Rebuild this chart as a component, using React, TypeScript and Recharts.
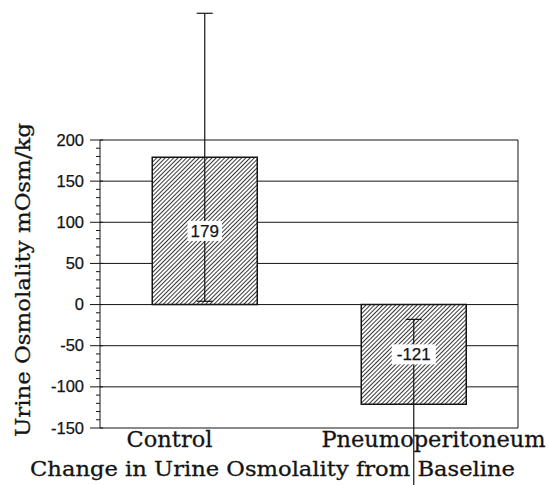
import { Bar, BarChart, CartesianGrid, ErrorBar, LabelList, ReferenceLine, XAxis, YAxis } from "recharts";

const groups = ["Control", "Pneumoperitoneum"];
const change = [179, -121];
const spread = [175, 103];
const majorTicks = [-150, -100, -50, 0, 50, 100, 150, 200];
const minorTicks = [
  -150, -140, -130, -120, -110, -100, -90, -80, -70, -60, -50, -40, -30, -20, -10, 0,
  10, 20, 30, 40, 50, 60, 70, 80, 90, 100, 110, 120, 130, 140, 150, 160, 170, 180, 190, 200,
];

const INK = "#141414";
const SERIF = "'DejaVu Serif', 'Liberation Serif', serif";
const SANS = "'Liberation Sans', Arial, sans-serif";
// nudges for the category names (the original isn't centred on the bars)
const catShift = [-35, 20];

const data = groups.map((name, i) => ({ name, value: change[i], err: spread[i] }));

function ValTick(props: any) {
  const { x, y, payload } = props;
  const major = payload.value % 50 === 0;
  return (
    <g>
      <line x1={major ? x - 10 : x - 4} x2={major ? x + 3 : x} y1={y} y2={y} stroke={INK} strokeWidth={1} />
      {major && (
        <text x={x - 16} y={y} dy={5.5} textAnchor="end" fontFamily={SANS} fontSize={16.5} fill={INK} stroke={INK} strokeWidth={0.25}>
          {payload.value}
        </text>
      )}
    </g>
  );
}

function CatTick(props: any) {
  const { x, y, payload, index } = props;
  return (
    <text
      x={x + (catShift[index] ?? 0)}
      y={y}
      dy={19}
      textAnchor="middle"
      fontFamily={SERIF}
      fontSize={22.5}
      fill={INK}
      stroke={INK}
      strokeWidth={0.3}
    >
      {payload.value}
    </text>
  );
}

function ValueBox(props: any) {
  const { x, y, width, height, value } = props;
  const cx = x + width / 2;
  const cy = y + height / 2;
  const w = String(value).length * 9.5 + 6;
  return (
    <g>
      <rect x={cx - w / 2} y={cy - 10} width={w} height={20} fill="#fff" />
      <text x={cx} y={cy} dy={6} textAnchor="middle" fontFamily={SANS} fontSize={17} fill={INK} stroke={INK} strokeWidth={0.25}>
        {value}
      </text>
    </g>
  );
}

export default function App() {
  return (
    <div style={{ position: "absolute", left: 0, top: 0, background: "#fff" }}>
      <BarChart width={548} height={485} data={data} margin={{ top: 140, right: 30, bottom: 0, left: 0 }} barCategoryGap="25%">
        <defs>
          <pattern id="hatch" patternUnits="userSpaceOnUse" width={3} height={3} patternTransform="rotate(45)">
            <rect width={3} height={3} fill="#fff" />
            <line x1={0} y1={0} x2={0} y2={3} stroke={INK} strokeWidth={1.7} />
          </pattern>
        </defs>
        <CartesianGrid horizontalValues={majorTicks} vertical={false} stroke={INK} strokeWidth={1} />
        <XAxis
          dataKey="name"
          height={57}
          axisLine={false}
          tickLine={false}
          tickSize={0}
          tickMargin={0}
          interval={0}
          tick={<CatTick />}
          label={{
            content: () => (
              <text
                x={30}
                y={476}
                textLength={485}
                lengthAdjust="spacingAndGlyphs"
                fontFamily={SERIF}
                fontSize={21}
                fill={INK}
                stroke={INK}
                strokeWidth={0.3}
              >
                Change in Urine Osmolality from Baseline
              </text>
            ),
          }}
        />
        <XAxis xAxisId="frame" type="number" domain={[0, 2]} hide />
        <YAxis
          domain={[-150, 200]}
          allowDataOverflow
          ticks={minorTicks}
          interval={0}
          width={100}
          tickLine={false}
          tickSize={0}
          tickMargin={0}
          tick={<ValTick />}
          axisLine={{ stroke: INK }}
          label={{
            content: () => (
              <text
                x={0}
                y={0}
                transform="translate(30 437) rotate(-90)"
                textLength={314}
                lengthAdjust="spacingAndGlyphs"
                fontFamily={SERIF}
                fontSize={21}
                fill={INK}
                stroke={INK}
                strokeWidth={0.3}
              >
                Urine Osmolality mOsm/kg
              </text>
            ),
          }}
        />
        <ReferenceLine xAxisId="frame" x={1} stroke={INK} />
        <ReferenceLine xAxisId="frame" x={2} stroke={INK} />
        <Bar dataKey="value" fill="url(#hatch)" stroke={INK} strokeWidth={1.5} isAnimationActive={false}>
          <ErrorBar dataKey="err" width={8} stroke={INK} strokeWidth={1.2} direction="y" />
          <LabelList dataKey="value" content={<ValueBox />} />
        </Bar>
      </BarChart>
    </div>
  );
}
